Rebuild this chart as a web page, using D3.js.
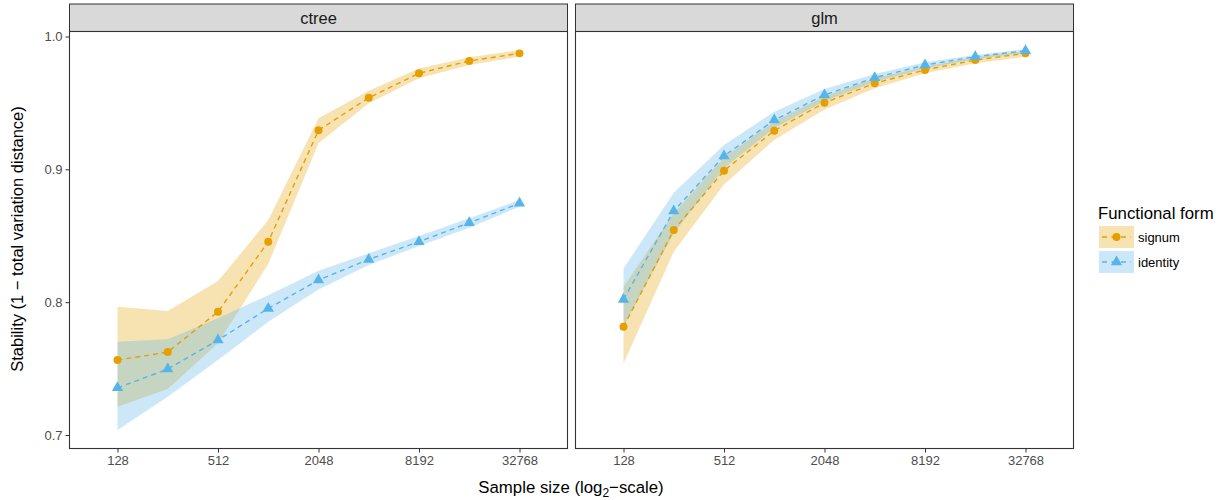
<!DOCTYPE html>
<html>
<head>
<meta charset="utf-8">
<script src="https://cdn.jsdelivr.net/npm/d3@7"></script>
<style>
  body { margin: 0; background: #fff; }
  text { font-family: "Liberation Sans", Arial, sans-serif; }
</style>
</head>
<body>
<div id="chart-area"></div>
<script>
// sizes
let width = 1226,
	height = 500;

// data
let sizes = [128, 256, 512, 1024, 2048, 4096, 8192, 16384, 32768];
let panels = ["ctree", "glm"];
let forms = ["signum", "identity"];

let ctreeSignum      = [0.7564, 0.7624, 0.7928, 0.8455, 0.9294, 0.9539, 0.9723, 0.9816, 0.9873];
let ctreeSignumLo    = [0.7212, 0.7346, 0.7690, 0.8287, 0.9196, 0.9497, 0.9685, 0.9785, 0.9848];
let ctreeSignumHi    = [0.7965, 0.7933, 0.8159, 0.8618, 0.9384, 0.9592, 0.9760, 0.9843, 0.9898];
let ctreeIdentity    = [0.7355, 0.7496, 0.7715, 0.7953, 0.8166, 0.8322, 0.8455, 0.8598, 0.8744];
let ctreeIdentityLo  = [0.7037, 0.7288, 0.7564, 0.7852, 0.8096, 0.8279, 0.8422, 0.8560, 0.8718];
let ctreeIdentityHi  = [0.7702, 0.7720, 0.7878, 0.8053, 0.8237, 0.8368, 0.8498, 0.8631, 0.8769];

let glmSignum        = [0.7815, 0.8543, 0.8990, 0.9291, 0.9502, 0.9648, 0.9748, 0.9823, 0.9873];
let glmSignumLo      = [0.7539, 0.8380, 0.8885, 0.9221, 0.9450, 0.9610, 0.9723, 0.9798, 0.9848];
let glmSignumHi      = [0.8116, 0.8669, 0.9090, 0.9360, 0.9550, 0.9685, 0.9772, 0.9845, 0.9893];
let glmIdentity      = [0.8021, 0.8686, 0.9100, 0.9371, 0.9560, 0.9690, 0.9785, 0.9848, 0.9893];
let glmIdentityLo    = [0.7820, 0.8518, 0.9010, 0.9310, 0.9515, 0.9660, 0.9760, 0.9830, 0.9878];
let glmIdentityHi    = [0.8254, 0.8824, 0.9183, 0.9434, 0.9605, 0.9718, 0.9806, 0.9861, 0.9904];

let yTicks = [0.7, 0.8, 0.9, 1.0];
let xTicks = [128, 512, 2048, 8192, 32768];

let colors = {signum: "#E69F00", identity: "#56B4E9"};

function series(mid, lo, hi) {
	return sizes.map((n, i) => ({n: n, v: mid[i], lo: lo[i], hi: hi[i]}));
}

let data = {
	ctree: {
		signum: series(ctreeSignum, ctreeSignumLo, ctreeSignumHi),
		identity: series(ctreeIdentity, ctreeIdentityLo, ctreeIdentityHi)
	},
	glm: {
		signum: series(glmSignum, glmSignumLo, glmSignumHi),
		identity: series(glmIdentity, glmIdentityLo, glmIdentityHi)
	}
};

drawChart();

function drawChart(){

	let svg = d3.select("#chart-area").append("svg")
		.attr("width", width)
		.attr("height", height);

	let panelTop = 31.5,
		panelH = 417,
		panelW = 498,
		stripH = 27.5,
		panelLeft = [69.5, 575.5];

	let x = d3.scaleLog().base(2)
		.domain([128, 32768])
		.range([48, 450]);

	let y = d3.scaleLinear()
		.domain([0.7, 1.0])
		.range([panelH - 13.5, 5]);

	let area = d3.area()
		.x(d => x(d.n))
		.y0(d => y(d.lo))
		.y1(d => y(d.hi));

	let line = d3.line()
		.x(d => x(d.n))
		.y(d => y(d.v));

	panels.forEach((p, pi) => {
		let g = svg.append("g")
			.attr("transform", "translate(" + panelLeft[pi] + "," + panelTop + ")");

		// strip
		g.append("rect")
			.attr("x", 0).attr("y", -stripH)
			.attr("width", panelW).attr("height", stripH)
			.attr("fill", "#D9D9D9")
			.attr("stroke", "#333333").attr("stroke-width", 1);
		g.append("text")
			.attr("x", panelW / 2).attr("y", -stripH / 2)
			.attr("dy", "0.35em")
			.attr("text-anchor", "middle")
			.attr("font-size", 16.5)
			.attr("fill", "#1A1A1A")
			.text(p);

		g.append("rect")
			.attr("width", panelW).attr("height", panelH)
			.attr("fill", "#fff");

		// ribbons
		forms.forEach(f => {
			g.append("path")
				.datum(data[p][f])
				.attr("d", area)
				.attr("fill", colors[f])
				.attr("fill-opacity", 0.3);
		});

		// lines
		forms.forEach(f => {
			g.append("path")
				.datum(data[p][f])
				.attr("d", line)
				.attr("fill", "none")
				.attr("stroke", colors[f])
				.attr("stroke-width", 1.4)
				.attr("stroke-dasharray", "5,4");
		});

		// points
		forms.forEach(f => {
			let sym = f === "signum" ? d3.symbolCircle : d3.symbolTriangle;
			let sz = f === "signum" ? 50 : 55;
			g.selectAll(".pt-" + f).data(data[p][f])
				.enter().append("path")
				.attr("class", "pt-" + f)
				.attr("transform", d => "translate(" + x(d.n) + "," + y(d.v) + ")")
				.attr("d", d3.symbol().type(sym).size(sz))
				.attr("fill", colors[f]);
		});

		// border
		g.append("rect")
			.attr("width", panelW).attr("height", panelH)
			.attr("fill", "none")
			.attr("stroke", "#333333").attr("stroke-width", 1.1);

		// x axis
		let xa = g.append("g")
			.attr("transform", "translate(0," + panelH + ")")
			.call(d3.axisBottom(x).tickValues(xTicks).tickSize(4).tickPadding(3).tickFormat(d3.format("d")));
		xa.select(".domain").remove();
		xa.selectAll("line").attr("stroke", "#333333");
		xa.selectAll("text").attr("fill", "#4D4D4D").attr("font-size", 13)
			.style("font-family", "'Liberation Sans', Arial, sans-serif");

		if (pi === 0) {
			let ya = g.append("g")
				.call(d3.axisLeft(y).tickValues(yTicks).tickSize(4).tickPadding(3).tickFormat(d3.format(".1f")));
			ya.select(".domain").remove();
			ya.selectAll("line").attr("stroke", "#333333");
			ya.selectAll("text").attr("fill", "#4D4D4D").attr("font-size", 13)
				.style("font-family", "'Liberation Sans', Arial, sans-serif");
		}
	});

	// axis titles
	svg.append("text")
		.attr("transform", "translate(23,239) rotate(-90)")
		.attr("text-anchor", "middle")
		.attr("font-size", 16.5)
		.attr("fill", "#000")
		.text("Stability (1 \u2212 total variation distance)");

	let xt = svg.append("text")
		.attr("x", 571).attr("y", 493)
		.attr("text-anchor", "middle")
		.attr("font-size", 16.8)
		.attr("fill", "#000");
	xt.append("tspan").text("Sample size (log");
	xt.append("tspan").attr("font-size", 12).attr("dy", 4).text("2");
	xt.append("tspan").attr("dy", -4).text("\u2212scale)");

	// legend
	let lg = svg.append("g").attr("transform", "translate(1098,0)");
	lg.append("text")
		.attr("x", 0).attr("y", 219)
		.attr("font-size", 16.8)
		.attr("fill", "#000")
		.text("Functional form");

	forms.forEach((f, i) => {
		let ky = 226 + i * 25;
		let k = lg.append("g").attr("transform", "translate(1," + ky + ")");
		k.append("rect")
			.attr("width", 35).attr("height", 22)
			.attr("fill", colors[f]).attr("fill-opacity", 0.3);
		k.append("line")
			.attr("x1", 3).attr("x2", 32)
			.attr("y1", 11).attr("y2", 11)
			.attr("stroke", colors[f]).attr("stroke-width", 1.4)
			.attr("stroke-dasharray", "5,4.5");
		k.append("path")
			.attr("transform", "translate(17.5,11)")
			.attr("d", d3.symbol().type(f === "signum" ? d3.symbolCircle : d3.symbolTriangle).size(f === "signum" ? 50 : 55))
			.attr("fill", colors[f]);
		k.append("text")
			.attr("x", 39).attr("y", 11)
			.attr("dy", "0.35em")
			.attr("font-size", 13)
			.attr("fill", "#000")
			.text(f);
	});
}
</script>
</body>
</html>
